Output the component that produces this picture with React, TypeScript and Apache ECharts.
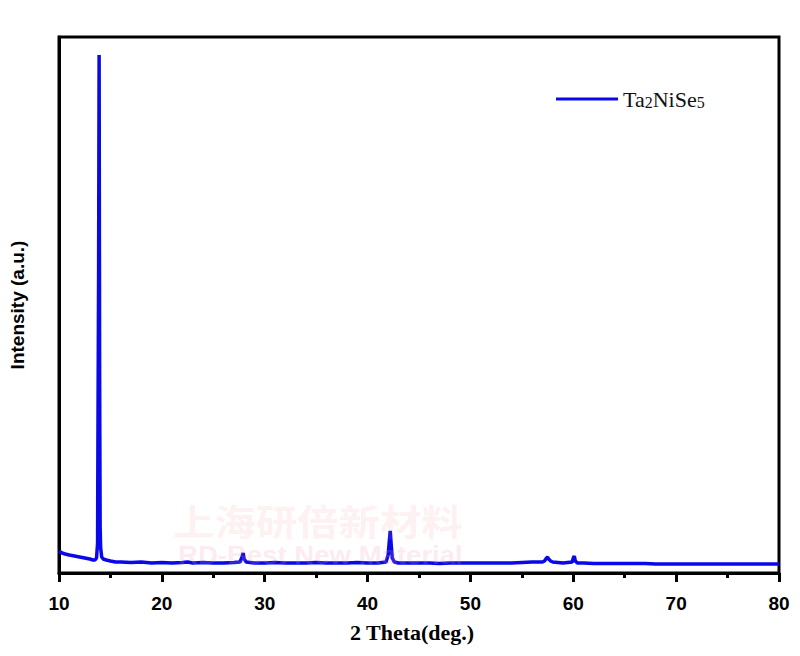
import React, { useEffect, useRef } from "react";
import * as echarts from "echarts";

const seriesName = "Ta2NiSe5";
const xTicks = [10, 20, 30, 40, 50, 60, 70, 80];
const twoTheta = [
  10.0, 10.3, 10.6, 11.0, 11.5, 12.0, 12.5, 13.0, 13.3, 13.5, 13.65, 13.75, 13.8, 13.85, 13.9, 13.95, 14.0, 14.05, 14.15,
  14.3, 14.6, 15.0, 15.5, 16.0, 17.0, 18.0, 19.0, 20.0, 21.0, 22.0, 22.5, 23.0, 24.0, 25.0, 26.0, 27.0, 27.6, 27.8, 27.9,
  28.0, 28.2, 29.0, 30.0, 31.0, 32.0, 33.0, 34.0, 35.0, 36.0, 37.0, 38.0, 39.0, 40.0, 41.0, 41.8, 42.0, 42.1, 42.2, 42.3,
  42.4, 42.6, 43.0, 44.0, 45.0, 46.0, 47.0, 48.0, 49.0, 50.0, 51.0, 52.0, 53.0, 54.0, 55.0, 56.0, 57.0, 57.2, 57.4, 57.5,
  57.6, 57.8, 58.0, 59.0, 59.9, 60.0, 60.1, 60.2, 60.4, 61.0, 62.0, 63.0, 64.0, 65.0, 66.0, 67.0, 68.0, 69.0, 70.0, 71.0,
  72.0, 73.0, 74.0, 75.0, 76.0, 77.0, 78.0, 79.0, 80.0,
];
const intensity = [
  22, 20, 19, 18, 17, 16, 15, 14, 13, 13, 15, 30, 173, 300, 518, 200, 46, 25, 16,
  14, 13, 12, 11, 11, 10.5, 11, 10, 10.5, 10, 10.5, 11, 10, 10.5, 10, 10, 10.5, 11, 16, 20,
  14, 11, 10, 10, 10.5, 10, 10, 10, 10.5, 10, 10, 10, 10.5, 10, 10, 11, 18, 30, 42, 28,
  15, 11, 10, 10, 10, 10, 9.5, 10, 10, 10, 10, 10, 10, 10, 10.5, 11, 11, 12, 15, 16,
  14, 12, 11, 10, 11, 15, 17, 12, 10, 10, 9.5, 9.5, 9.5, 9.5, 9.5, 9.5, 9, 9, 9, 9,
  9, 9, 9, 9, 9, 9, 9, 9, 9,
];

export default function App() {
  const ref = useRef<HTMLDivElement>(null);
  useEffect(() => {
    if (!ref.current) return;
    const chart = echarts.init(ref.current, null, { renderer: "svg" });
    const data = twoTheta.map((x, i) => [x, intensity[i]]);
    chart.setOption({
      animation: false,
      backgroundColor: "#fff",
      grid: { left: 56, right: 21, top: 37, bottom: 83, show: true, borderColor: "#000", borderWidth: 3, containLabel: false },
      legend: {
        left: 551,
        top: 83,
        itemWidth: 62,
        itemHeight: 14,
        icon: "path://M0,6 L62,6 L62,9 L0,9 Z",
        data: [seriesName],
        formatter: () => "Ta{s|2}NiSe{s|5}",
        textStyle: {
          fontFamily: "Liberation Serif",
          fontSize: 22,
          color: "#111",
          rich: { s: { fontFamily: "Liberation Serif", fontSize: 16, color: "#111", verticalAlign: "bottom", padding: [5, 0, 0, 0] } },
        },
      },
      xAxis: {
        type: "value",
        min: 10,
        max: 80,
        interval: 10,
        name: "2 Theta(deg.)",
        nameLocation: "middle",
        nameGap: 48,
        nameTextStyle: { fontFamily: "Liberation Serif", fontWeight: "bold", fontSize: 22, color: "#000", padding: [0, 14, 0, 0] },
        axisLine: { show: true, lineStyle: { color: "#000", width: 3 } },
        axisTick: { show: true, inside: false, length: 9, lineStyle: { color: "#000", width: 3 } },
        minorTick: { show: true, splitNumber: 2, length: 5, lineStyle: { color: "#000", width: 3 } },
        axisLabel: { fontFamily: "Liberation Sans", fontWeight: "bold", fontSize: 19, color: "#000", margin: 21 },
        splitLine: { show: false },
      },
      yAxis: {
        type: "value",
        min: 0,
        max: 536,
        name: "Intensity (a.u.)",
        nameLocation: "middle",
        nameGap: 32,
        nameTextStyle: { fontFamily: "Liberation Sans", fontWeight: "bold", fontSize: 19, color: "#000" },
        axisLine: { show: true, lineStyle: { color: "#000", width: 3 } },
        axisTick: { show: false },
        axisLabel: { show: false },
        splitLine: { show: false },
      },
      series: [
        {
          name: seriesName,
          type: "line",
          data,
          showSymbol: false,
          symbol: "none",
          lineStyle: { color: "#0808e8", width: 3.5 },
          itemStyle: { color: "#0808e8" },
        },
      ],
      graphic: [
        {
          type: "text",
          left: 173,
          top: 502,
          z: 100,
          scaleX: 1.15,
          style: { text: "上海研倍新材料", fontFamily: "Noto Sans CJK SC", fontWeight: "bold", fontSize: 36, fill: "rgba(250,150,150,0.15)" },
        },
        {
          type: "text",
          left: 178,
          top: 542,
          z: 100,
          scaleX: 1.06,
          style: { text: "RD-Best New Material", fontFamily: "Liberation Sans", fontWeight: "bold", fontSize: 26, fill: "rgba(240,150,170,0.2)" },
        },
      ],
    });
    return () => chart.dispose();
  }, []);
  return <div ref={ref} style={{ position: "fixed", left: 0, top: 0, width: 800, height: 656 }} />;
}
